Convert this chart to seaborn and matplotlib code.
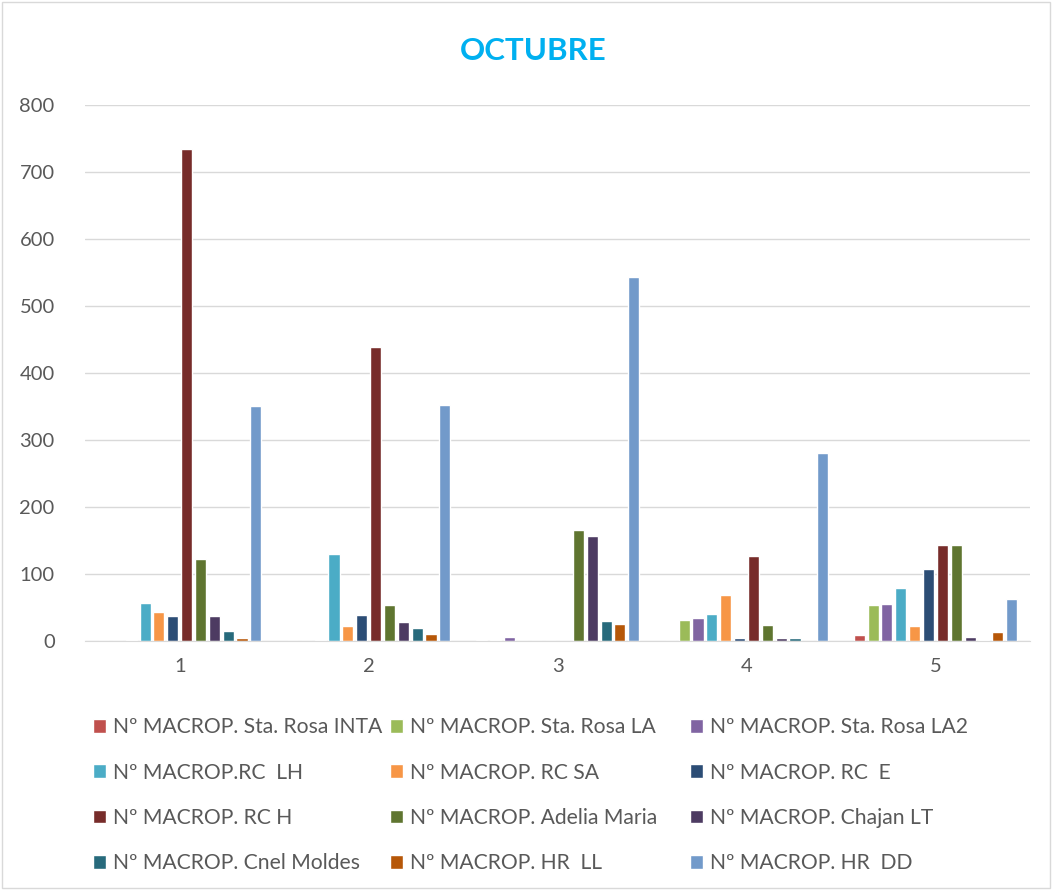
import pandas as pd
import seaborn as sns
import matplotlib.pyplot as plt

# categorías (eje x) y series
categorias = ["1", "2", "3", "4", "5"]
estaciones = [
    "Nº MACROP. Sta. Rosa INTA",
    "Nº MACROP. Sta. Rosa LA",
    "Nº MACROP. Sta. Rosa LA2",
    "Nº MACROP.RC  LH",
    "Nº MACROP. RC SA",
    "Nº MACROP. RC  E",
    "Nº MACROP. RC H",
    "Nº MACROP. Adelia Maria",
    "Nº MACROP. Chajan LT",
    "Nº MACROP. Cnel Moldes",
    "Nº MACROP. HR  LL",
    "Nº MACROP. HR  DD",
]
colores = ["#C0504D", "#9BBB59", "#8064A2", "#4BACC6", "#F79646", "#2C4D75",
           "#772C2A", "#5F7530", "#4D3B62", "#276A7C", "#B65708", "#729ACA"]

sta_rosa_inta = [0, 0, 1, 0, 9]
sta_rosa_la = [0, 0, 1, 32, 54]
sta_rosa_la2 = [1, 2, 6, 35, 55]
rc_lh = [56, 130, 0, 40, 79]
rc_sa = [44, 22, 0, 69, 22]
rc_e = [37, 39, 0, 5, 108]
rc_h = [735, 439, 0, 127, 143]
adelia_maria = [122, 54, 165, 24, 144]
chajan_lt = [37, 28, 157, 4, 6]
cnel_moldes = [15, 19, 30, 4, 1]
hr_ll = [4, 11, 25, 0, 14]
hr_dd = [350, 352, 543, 281, 62]

series = [sta_rosa_inta, sta_rosa_la, sta_rosa_la2, rc_lh, rc_sa, rc_e,
          rc_h, adelia_maria, chajan_lt, cnel_moldes, hr_ll, hr_dd]

filas = []
for nombre, valores in zip(estaciones, series):
    for cat, v in zip(categorias, valores):
        filas.append({"cat": cat, "estacion": nombre, "valor": v})
df = pd.DataFrame(filas)

sns.set_style("white")
plt.rcParams['font.family'] = ['Lato', 'DejaVu Sans']
gris = "#595959"

fig = plt.figure(figsize=(10.52, 8.9), dpi=100)
ax = fig.add_axes([0.081, 0.2798, 0.898, 0.6022])

sns.barplot(data=df, x="cat", y="valor", hue="estacion", hue_order=estaciones,
            order=categorias, palette=colores, saturation=1, width=0.88,
            gap=0.2, errorbar=None, ax=ax, legend=True)

ax.set_ylim(0, 800)
ax.set_yticks(range(0, 801, 100))
ax.yaxis.grid(True, color="#D9D9D9", linewidth=1)
ax.set_axisbelow(True)
for s in ["top", "right", "left"]:
    ax.spines[s].set_visible(False)
ax.spines["bottom"].set_color("#D9D9D9")
ax.tick_params(axis="both", length=0, labelsize=14.5, colors=gris)
ax.tick_params(axis="x", pad=12)
ax.tick_params(axis="y", pad=22)
ax.set_xlabel("")
ax.set_ylabel("")

fig.text(0.507, 0.943, "OCTUBRE", ha="center", va="center", fontsize=22.5,
         fontweight="bold", color="#00B0F0")

# leyenda: tres columnas de igual ancho, ordenadas por filas
handles, labels = ax.get_legend_handles_labels()
ax.get_legend().remove()
x_cols = [0.080, 0.3625, 0.6475]
for j, x0 in enumerate(x_cols):
    idx = [j, j + 3, j + 6, j + 9]
    fig.legend([handles[i] for i in idx], [labels[i] for i in idx],
               loc="upper left", bbox_to_anchor=(x0, 0.2035), ncol=1,
               frameon=False, fontsize=15.2, labelcolor=gris,
               handlelength=0.62, handleheight=0.62, handletextpad=0.35,
               labelspacing=1.2, borderaxespad=0)

fig.patches.append(plt.Rectangle((0.002, 0.002), 0.996, 0.996,
                                 transform=fig.transFigure, fill=False,
                                 edgecolor="#D9D9D9", linewidth=1))

fig.savefig("out.png", dpi=100)
